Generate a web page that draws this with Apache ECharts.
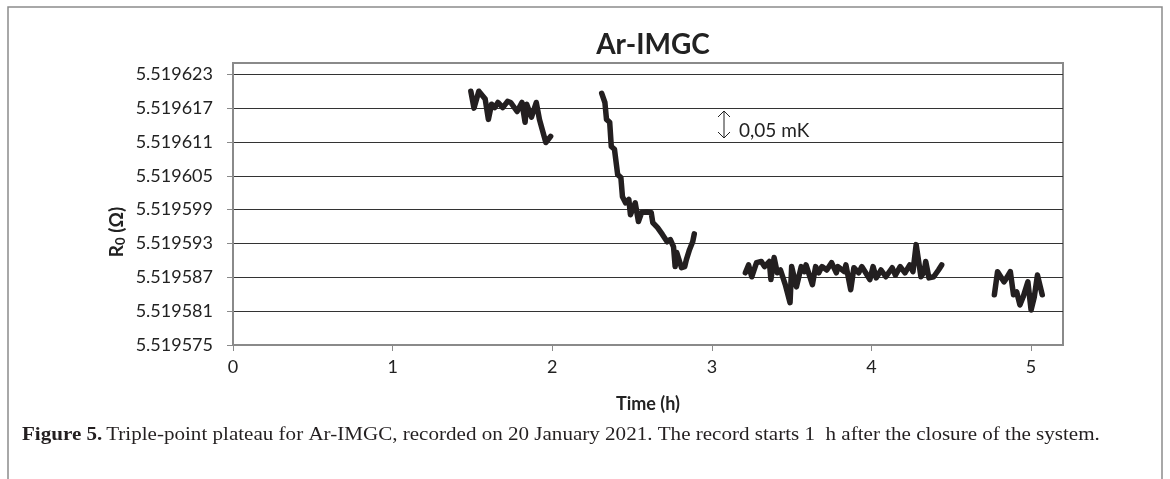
<!DOCTYPE html>
<html>
<head>
<meta charset="utf-8">
<title>Ar-IMGC</title>
<script src="https://cdn.jsdelivr.net/npm/echarts@6/dist/echarts.min.js"></script>
<style>
  html, body { margin: 0; padding: 0; background: #fff; }
  #chart { width: 1170px; height: 479px; }
</style>
</head>
<body>
<div id="chart"></div>
<script>
// 数据：时间 (h) 与 R0 (Ω)，四段记录
const time1 = [1.49, 1.51, 1.54, 1.58, 1.60, 1.62, 1.64, 1.66, 1.69, 1.72, 1.74, 1.78, 1.81, 1.83, 1.84, 1.87, 1.90, 1.92, 1.96, 1.99];
const r0Seg1 = [5.5196200, 5.5196170, 5.5196200, 5.5196186, 5.5196150, 5.5196177, 5.5196171, 5.5196180, 5.5196171, 5.5196182,
                5.5196180, 5.5196164, 5.5196180, 5.5196145, 5.5196177, 5.5196154, 5.5196180, 5.5196150, 5.5196109, 5.5196120];

const time2 = [2.31, 2.33, 2.34, 2.36, 2.37, 2.39, 2.41, 2.43, 2.44, 2.46, 2.48, 2.49, 2.52, 2.54, 2.56, 2.59,
               2.62, 2.63, 2.66, 2.69, 2.72, 2.74, 2.76, 2.77, 2.78, 2.81, 2.83, 2.84, 2.86, 2.87, 2.88, 2.89];
const r0Seg2 = [5.5196196, 5.5196180, 5.5196150, 5.5196145, 5.5196102, 5.5196097, 5.5196052, 5.5196047, 5.5196013, 5.5196002,
                5.5196008, 5.5195981, 5.5196002, 5.5195969, 5.5195985, 5.5195986, 5.5195985, 5.5195967, 5.5195958, 5.5195946,
                5.5195933, 5.5195937, 5.5195924, 5.5195889, 5.5195914, 5.5195887, 5.5195889, 5.5195901, 5.5195919, 5.5195919,
                5.5195933, 5.5195947];

const time3 = [3.21, 3.23, 3.25, 3.28, 3.31, 3.33, 3.36, 3.37, 3.39, 3.41, 3.43, 3.46, 3.49, 3.50, 3.53, 3.56, 3.58, 3.59,
               3.63, 3.65, 3.67, 3.69, 3.72, 3.75, 3.78, 3.79, 3.83, 3.84, 3.87, 3.89, 3.92, 3.94, 3.96, 3.99, 4.01, 4.03,
               4.06, 4.09, 4.13, 4.15, 4.18, 4.21, 4.24, 4.26, 4.28, 4.31, 4.33, 4.34, 4.36, 4.39, 4.42, 4.44];
const r0Seg3 = [5.5195878, 5.5195892, 5.5195871, 5.5195896, 5.5195898, 5.5195889, 5.5195898, 5.5195866, 5.5195905, 5.5195878,
                5.5195883, 5.5195857, 5.5195825, 5.5195889, 5.5195853, 5.5195889, 5.5195880, 5.5195892, 5.5195857, 5.5195889,
                5.5195878, 5.5195889, 5.5195883, 5.5195896, 5.5195878, 5.5195889, 5.5195880, 5.5195892, 5.5195848, 5.5195887,
                5.5195878, 5.5195889, 5.5195880, 5.5195866, 5.5195889, 5.5195869, 5.5195883, 5.5195871, 5.5195887, 5.5195874,
                5.5195889, 5.5195878, 5.5195892, 5.5195880, 5.5195928, 5.5195871, 5.5195880, 5.5195898, 5.5195869, 5.5195871,
                5.5195883, 5.5195892];

const time4 = [4.77, 4.79, 4.83, 4.84, 4.87, 4.89, 4.91, 4.93, 4.95, 4.98, 5.00, 5.02, 5.04, 5.07];
const r0Seg4 = [5.5195839, 5.5195880, 5.5195862, 5.5195866, 5.5195880, 5.5195839, 5.5195844, 5.5195821, 5.5195835, 5.5195862,
                5.5195812, 5.5195835, 5.5195874, 5.5195839];

// 刻度标签
const yTickLabels = ['5.519575', '5.519581', '5.519587', '5.519593', '5.519599', '5.519605', '5.519611', '5.519617', '5.519623'];
const xTickLabels = ['0', '1', '2', '3', '4', '5'];

(function() {
    const chart = echarts.init(document.getElementById('chart'));

    // y轴以 µΩ 偏移量绘制，避免浮点刻度问题
    const R0_BASE = parseFloat(yTickLabels[0]);
    const toMicro = (r) => Math.round((r - R0_BASE) * 1e7) / 10;
    const yTicks = yTickLabels.map(s => toMicro(parseFloat(s)));
    const xTicks = xTickLabels.map(Number);

    const segments = [[time1, r0Seg1], [time2, r0Seg2], [time3, r0Seg3], [time4, r0Seg4]];
    const series = segments.map(([t, r]) => ({
        type: 'line',
        data: t.map((x, i) => [x, toMicro(r[i])]),
        showSymbol: false,
        smooth: false,
        lineStyle: { color: '#231f20', width: 5.5, cap: 'round', join: 'round' },
        silent: true
    }));

    const labelFont = { fontFamily: 'Lato', fontSize: 18, color: '#222' };

    const option = {
        animation: false,
        title: {
            text: 'Ar-IMGC',
            left: 648,
            top: 26,
            textAlign: 'center',
            textStyle: { fontFamily: 'Lato', fontWeight: 'bold', fontSize: 28, color: '#222' }
        },
        grid: {
            left: 233, top: 63, right: 107, bottom: 134,
            show: true, borderColor: '#8a8a8a', borderWidth: 2
        },
        xAxis: {
            type: 'value',
            min: 0, max: 5.2, interval: 1,
            name: 'Time (h)',
            nameLocation: 'middle',
            nameGap: 50,
            nameTextStyle: { fontFamily: 'Lato', fontWeight: 'bold', fontSize: 18, color: '#222' },
            axisLine: { show: true, lineStyle: { color: '#8a8a8a', width: 2 } },
            axisTick: { show: true, length: 6, customValues: xTicks, lineStyle: { color: '#8a8a8a', width: 1 } },
            axisLabel: { ...labelFont, margin: 13, customValues: xTicks, formatter: v => String(v) },
            splitLine: { show: false }
        },
        yAxis: {
            type: 'value',
            min: 0, max: 50, interval: 6,
            axisLine: { show: true, lineStyle: { color: '#8a8a8a', width: 2 } },
            axisTick: { show: true, length: 6, customValues: yTicks, lineStyle: { color: '#8a8a8a', width: 1 } },
            axisLabel: {
                ...labelFont, margin: 20, customValues: yTicks,
                formatter: v => yTickLabels[yTicks.indexOf(v)] || ''
            },
            splitLine: { show: true, lineStyle: { color: '#333', width: 1 } }
        },
        series: series,
        graphic: [
            // 外框
            { type: 'rect', shape: { x: 8, y: 7, width: 1154, height: 500 },
              style: { fill: null, stroke: '#8c8c8c', lineWidth: 1.5 }, silent: true },
            // y轴名称
            { type: 'text', x: 117, y: 232, rotation: Math.PI / 2,
              style: {
                  text: '{b|R}{s|0}{b| (Ω)}',
                  align: 'center', verticalAlign: 'middle',
                  rich: {
                      b: { fontFamily: 'Lato', fontWeight: 'bold', fontSize: 19, fill: '#222' },
                      s: { fontFamily: 'Lato', fontWeight: 'bold', fontSize: 13, fill: '#222', verticalAlign: 'bottom', padding: [8, 0, 0, 0] }
                  }
              } },
            // 0,05 mK 标注
            { type: 'line', shape: { x1: 724, y1: 111, x2: 724, y2: 138 }, style: { stroke: '#222', lineWidth: 1 } },
            { type: 'polyline', shape: { points: [[718, 117], [724, 111], [730, 117]] }, style: { stroke: '#222', fill: null, lineWidth: 1 } },
            { type: 'polyline', shape: { points: [[718, 132], [724, 138], [730, 132]] }, style: { stroke: '#222', fill: null, lineWidth: 1 } },
            { type: 'text', x: 739, y: 131,
              style: { text: '0,05 mK', fontFamily: 'Lato', fontSize: 19, fill: '#222', verticalAlign: 'middle' } },
            // 图注
            { type: 'text', x: 22, y: 435, scaleX: 1.17,
              style: {
                  text: '{b|Figure 5.} {r|Triple-point plateau for Ar-IMGC, recorded on 20 January 2021. The record starts 1\u00a0 h after the closure of the system.}',
                  verticalAlign: 'middle',
                  rich: {
                      b: { fontFamily: 'Liberation Serif', fontWeight: 'bold', fontSize: 18, fill: '#231f20' },
                      r: { fontFamily: 'Liberation Serif', fontSize: 18, fill: '#231f20' }
                  }
              } }
        ]
    };

    chart.setOption(option);
})();
</script>
</body>
</html>
